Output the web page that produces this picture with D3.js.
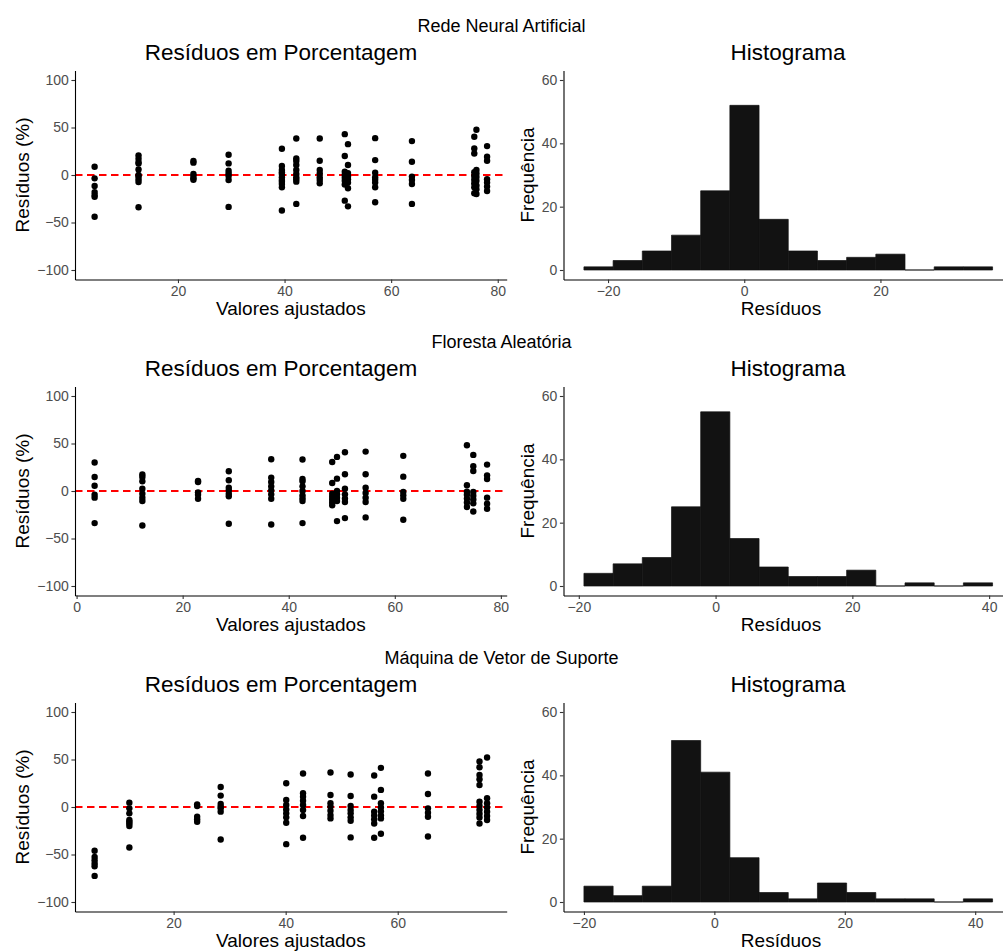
<!DOCTYPE html>
<html><head><meta charset="utf-8">
<script src="https://cdn.jsdelivr.net/npm/d3@7"></script>
<style>body{margin:0;background:#fff}svg{display:block}text{font-family:"Liberation Sans",Arial,sans-serif}</style>
</head><body><svg id="c" width="1003" height="951"></svg>
<script>
// ---- data ----
const rowTitles = ["Rede Neural Artificial", "Floresta Aleatória", "Máquina de Vetor de Suporte"];
const scatterTitle = "Resíduos em Porcentagem";
const histTitle = "Histograma";

const nnFitted = [4.36, 12.6, 22.9, 29.5, 39.5, 42.2, 46.6, 51.3, 51.9, 57.0, 63.9, 75.6, 76.0, 78.0];
const nnResid = [
  [8.7, -3.5, -11.5, -18, -21, -23, -44],
  [20.6, 17, 13.6, 12, 5.9, 0, -1.5, -4.5, -7.3, -34],
  [14.7, 13, 1, -1, -3.5, -5],
  [21.3, 12.2, 4.5, 1.7, -1, -5.2, -33.6],
  [27.6, 9.4, 5.2, 3, 1, -2.4, -5.2, -7, -9.4, -12.9, -37.4],
  [38.5, 17.5, 14.7, 10.5, 5.2, 1, -2.4, -4.5, -7, -30.4],
  [38.5, 15, 5.2, 1.7, -2.4, -5.2, -8.7],
  [43, 20, 3.5, 0, -3, -6, -10, -27],
  [32.5, 10.5, 2, -1.5, -4.5, -8, -14, -33],
  [38.8, 15.7, 2.4, -2.4, -5, -8, -12.9, -28.7],
  [35.7, 14, -1.7, -5.2, -9.4, -30.4],
  [40.2, 28, 22.7, 3, -1, -5, -9, -13, -19.2],
  [47.6, 5.2, 1.7, -2, -6, -11, -15, -20],
  [30.4, 19.2, 15, -4.5, -8, -12.2, -16.8]
];
const rfFitted = [3.4, 12.4, 22.9, 28.7, 36.7, 42.6, 48.2, 49.1, 50.6, 54.5, 61.6, 73.6, 74.8, 77.4];
const rfResid = [
  [30, 14.8, 5.6, -3.9, -7, -33.8],
  [17.3, 14.8, 10.2, 2.5, -2.8, -7, -10.6, -36.3],
  [10.6, 9.5, -1.4, -3.9, -8.1],
  [20.8, 11.3, 3.5, 0.7, -2.8, -5.6, -34.5],
  [33.5, 14.1, 9.5, 4.9, 0.7, -3.5, -8.1, -35.2],
  [33.1, 12.7, 10.2, 4.9, 0, -4.6, -7.5, -10.6, -33.8],
  [30.6, 8.5, -2.8, -6, -9, -12, -15],
  [35.9, 13, 0, -3.5, -7, -10.5, -31.7],
  [40.8, 17.6, 2.5, -3.5, -8, -11.6, -28.5],
  [41.5, 17.6, 3.5, -2.1, -7, -11.6, -27.8],
  [37, 15.1, -1, -4.6, -8.1, -30.3],
  [48.2, 6, -0.7, -4, -8, -12, -16.9],
  [38, 26, 21, -1, -5, -9, -13, -21.5],
  [27.8, 16.5, 12.7, -7, -13.4, -18.7]
];
const svmFitted = [5.9, 12.1, 24.2, 28.4, 40.1, 43.1, 48.0, 51.6, 55.8, 57.0, 65.4, 74.6, 75.95];
const svmResid = [
  [-46.1, -52.5, -56, -59.5, -62.3, -72.5],
  [4.6, -1.4, -6.7, -13.7, -15.5, -17.3, -20, -42.6],
  [2.8, 1, -10.2, -13, -15.5],
  [21.1, 12, 3.2, 0.4, -1.4, -4.9, -34.2],
  [25, 7.4, 2.1, -2.5, -6.7, -10.9, -16.5, -39.1],
  [35.2, 14.4, 10.9, 6.7, 2.1, -3.2, -9.5, -32.4],
  [36.3, 12.7, 3.9, 0.4, -3.9, -8.5, -12],
  [34.2, 11.6, 1, -3.2, -6.7, -10.9, -14.4, -32],
  [33.1, 10.9, -4.9, -9, -13, -17.3, -32.4],
  [41.2, 18, 3.9, -0.5, -4.6, -9, -12, -28.2],
  [35.2, 13.7, -1.4, -6, -10.2, -31],
  [47.9, 41.9, 33.8, 29.2, 23.2, 5.6, 1, -3, -7, -11, -17.3],
  [52.1, 9.2, 3.9, -0.4, -5, -9.5, -13.7]
];

const nnBinStart = -23.54, nnBinWidth = 4.286;
const nnCounts = [1, 3, 6, 11, 25, 52, 16, 6, 3, 4, 5, 0, 1, 1];
const rfBinStart = -19.25, rfBinWidth = 4.268;
const rfCounts = [4, 7, 9, 25, 55, 15, 6, 3, 3, 5, 0, 1, 0, 1];
const svmBinStart = -20, svmBinWidth = 4.476;
const svmCounts = [5, 2, 5, 51, 41, 14, 3, 1, 6, 3, 1, 1, 0, 1];

const residTicks = [-100, -50, 0, 50, 100];
const freqTicks = [0, 20, 40, 60];

// ---- build ----
const models = [
  {fitted: nnFitted, resid: nnResid, start: nnBinStart, width: nnBinWidth, counts: nnCounts},
  {fitted: rfFitted, resid: rfResid, start: rfBinStart, width: rfBinWidth, counts: rfCounts},
  {fitted: svmFitted, resid: svmResid, start: svmBinStart, width: svmBinWidth, counts: svmCounts}
];

const svg = d3.select("#c");
const ROW = 316;
const L = {x0: 75, x1: 506.7}, R = {x0: 563.5, x1: 1013};
const TICKC = "#4d4d4d", AXC = "#000";

function styleAxis(g) {
  g.select(".domain").attr("stroke", AXC).attr("stroke-width", 1.1);
  g.selectAll(".tick line").attr("stroke", "#333").attr("stroke-width", 1.1);
  g.selectAll(".tick text").attr("fill", TICKC).attr("font-size", 14)
    .attr("font-family", '"Liberation Sans", Arial, sans-serif');
}
const minus = d => String(d).replace("-", "\u2212");

models.forEach((m, i) => {
  const top = i * ROW;
  const g = svg.append("g").attr("transform", `translate(0,${top})`);
  const pTop = 70.5, pBot = 279.5;

  g.append("text").attr("x", 501.5).attr("y", 31.5).attr("text-anchor", "middle")
    .attr("font-size", 18).text(rowTitles[i]);

  // ---- scatter ----
  const ext = d3.extent(m.fitted), pad = (ext[1] - ext[0]) * 0.05;
  const xs = d3.scaleLinear().domain([ext[0] - pad, ext[1] + pad]).range([L.x0, L.x1]);
  const ys = d3.scaleLinear().domain([-110, 110]).range([pBot, pTop]);

  g.append("text").attr("x", 281).attr("y", 59.5).attr("text-anchor", "middle")
    .attr("font-size", 22.5).text(scatterTitle);

  const pts = [];
  m.fitted.forEach((f, j) => m.resid[j].forEach(r => pts.push([f, r])));

  g.append("line").attr("x1", L.x0).attr("x2", L.x1).attr("y1", ys(0)).attr("y2", ys(0))
    .attr("stroke", "#ff0000").attr("stroke-width", 1.9).attr("stroke-dasharray", "7.5,4.5");

  g.append("g").selectAll("circle").data(pts).join("circle")
    .attr("cx", d => xs(d[0])).attr("cy", d => ys(d[1])).attr("r", 3.2).attr("fill", "#000");

  const ax = g.append("g").attr("transform", `translate(0,${pBot})`)
    .call(d3.axisBottom(xs).ticks(5).tickSize(3.6).tickSizeOuter(0).tickPadding(2.5).tickFormat(minus));
  styleAxis(ax);
  const ay = g.append("g").attr("transform", `translate(${L.x0},0)`)
    .call(d3.axisLeft(ys).tickValues(residTicks).tickSize(3.6).tickSizeOuter(0).tickPadding(2.5).tickFormat(minus));
  styleAxis(ay);

  g.append("text").attr("x", (L.x0 + L.x1) / 2).attr("y", 315).attr("text-anchor", "middle")
    .attr("font-size", 19).text("Valores ajustados");
  g.append("text").attr("transform", `translate(29,${(pTop + pBot) / 2}) rotate(-90)`)
    .attr("text-anchor", "middle").attr("font-size", 19).text("Resíduos (%)");

  // ---- histogram ----
  const n = m.counts.length;
  const b0 = m.start, b1 = m.start + n * m.width, hp = (b1 - b0) * 0.05;
  const hx = d3.scaleLinear().domain([b0 - hp, b1 + hp]).range([R.x0, R.x1]);
  const hy = d3.scaleLinear().domain([-3, 63]).range([pBot, pTop]);

  g.append("text").attr("x", 788).attr("y", 59.5).attr("text-anchor", "middle")
    .attr("font-size", 22.5).text(histTitle);

  const bins = m.counts.map((c, k) => ({x0: b0 + k * m.width, x1: b0 + (k + 1) * m.width, c}));
  g.append("g").selectAll("path").data(bins).join("path")
    .attr("d", d => `M${hx(d.x0)},${hy(0)}H${hx(d.x1)}V${hy(d.c)}H${hx(d.x0)}Z`)
    .attr("fill", "#121212").attr("stroke", "#121212").attr("stroke-width", 0.7);

  const hax = g.append("g").attr("transform", `translate(0,${pBot})`)
    .call(d3.axisBottom(hx).ticks(4).tickSize(3.6).tickSizeOuter(0).tickPadding(2.5).tickFormat(minus));
  styleAxis(hax);
  const hay = g.append("g").attr("transform", `translate(${R.x0},0)`)
    .call(d3.axisLeft(hy).tickValues(freqTicks).tickSize(3.6).tickSizeOuter(0).tickPadding(2.5));
  styleAxis(hay);

  g.append("text").attr("x", 781).attr("y", 315).attr("text-anchor", "middle")
    .attr("font-size", 19).text("Resíduos");
  g.append("text").attr("transform", `translate(534,${(pTop + pBot) / 2}) rotate(-90)`)
    .attr("text-anchor", "middle").attr("font-size", 19).text("Frequência");
});
</script></body></html>
